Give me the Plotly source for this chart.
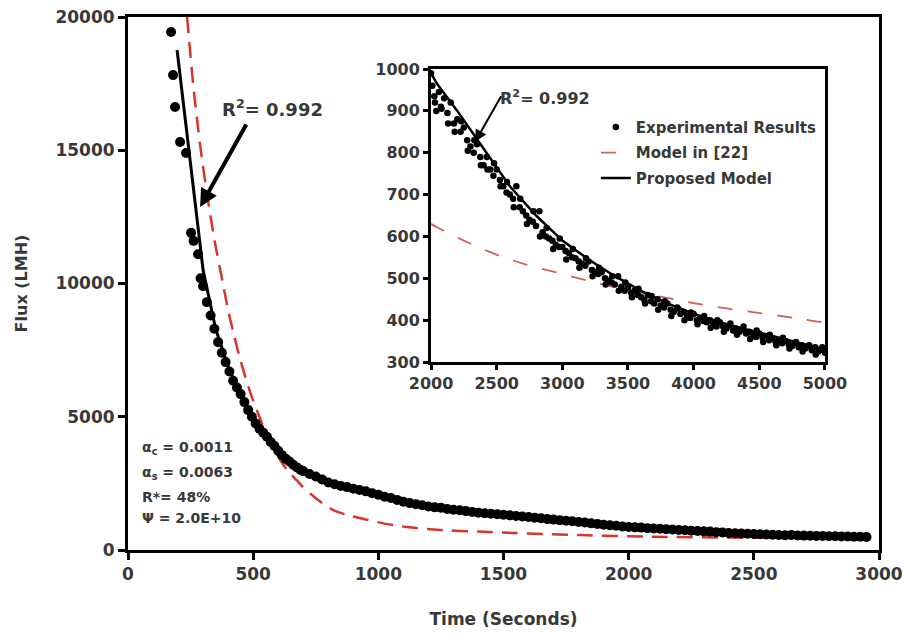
import plotly.graph_objects as go

# ---------------- main chart data ----------------
main_exp_t = [172, 180, 188, 208, 232, 252, 262, 280, 290,
              300, 315, 330, 345, 360, 375, 390, 405, 420, 435, 450, 465, 480, 495, 510, 525,
              540, 555, 570, 585, 600, 615, 630, 645, 660, 675, 690,
              700, 725, 750, 775, 800, 825, 850, 875, 900, 925, 950, 975, 1000, 1025, 1050,
              1075, 1100, 1125, 1150, 1175, 1200, 1225, 1250, 1275, 1300, 1325, 1350, 1375,
              1400, 1425, 1450, 1475, 1500, 1525, 1550, 1575, 1600, 1625, 1650, 1675, 1700,
              1725, 1750, 1775, 1800, 1825, 1850, 1875, 1900, 1925, 1950, 1975, 2000, 2025,
              2050, 2075, 2100, 2125, 2150, 2175, 2200, 2225, 2250, 2275, 2300, 2325, 2350,
              2375, 2400, 2425, 2450, 2475, 2500, 2525, 2550, 2575, 2600, 2625, 2650, 2675,
              2700, 2725, 2750, 2775, 2800, 2825, 2850, 2875, 2900, 2925, 2950]
main_exp_flux = [19440, 17820, 16620, 15310, 14900, 11900, 11600, 11100, 10200,
                 9900, 9300, 8800, 8300, 7800, 7400, 7050, 6700, 6350, 6100, 5850, 5550, 5250,
                 5000, 4750, 4550, 4400, 4250, 4050, 3900, 3720, 3560, 3420, 3320, 3200, 3100,
                 3000,
                 2960, 2850, 2760, 2650, 2530, 2470, 2400, 2360, 2300, 2250, 2200, 2130, 2070,
                 2000, 1950, 1880, 1810, 1760, 1720, 1680, 1630, 1600, 1590, 1540, 1510, 1490,
                 1460, 1430, 1400, 1380, 1360, 1340, 1320, 1300, 1280, 1260, 1240, 1210, 1190,
                 1160, 1140, 1120, 1100, 1080, 1050, 1030, 1000, 980, 950, 930, 910, 880, 860,
                 850, 840, 820, 810, 800, 780, 770, 750, 740, 720, 710, 700, 690, 670, 660, 640,
                 630, 620, 610, 600, 590, 580, 570, 560, 555, 560, 545, 540, 535, 530, 525, 520,
                 515, 510, 505, 500, 495, 490]

main_prop_t = [196, 300, 350, 400, 450, 500, 600, 700, 800, 1000, 1200, 1500, 2000, 2500, 2950]
main_prop_flux = [18760, 10500, 8300, 6900, 5800, 4900, 3700, 2950, 2500, 2050, 1650, 1300, 880, 650, 500]

main_ref_t = [236, 260, 288, 318, 348, 375, 400, 425, 450, 475, 500, 525, 550, 580, 610, 640,
              676, 700, 730, 770, 820, 880, 956, 1030, 1116, 1248, 1400, 1540, 1808, 2076,
              2500, 2950]
main_ref_flux = [20000, 17500, 15200, 13200, 11500, 10200, 9000, 8000, 7100, 6300, 5600, 5000,
                 4400, 3850, 3350, 2950, 2600, 2350, 2100, 1800, 1500, 1300, 1130, 980, 860, 750,
                 690, 640, 560, 500, 460, 430]

# ---------------- inset data ----------------
ins_exp_t1 = [2000, 2010, 2025, 2040, 2060, 2075, 2100, 2125, 2150, 2175, 2200, 2225, 2250, 2275,
              2300, 2325, 2350, 2375, 2400, 2425, 2450, 2475, 2500, 2525, 2550, 2575, 2600, 2625,
              2650, 2675, 2700, 2725, 2750, 2775, 2800, 2825, 2850, 2875, 2900, 2925, 2950, 2975,
              3000, 3025, 3050, 3075, 3100, 3125, 3150, 3175, 3200, 3225, 3250, 3275, 3300, 3325,
              3350, 3375, 3400, 3425, 3450, 3475, 3500, 3525, 3550, 3575, 3600, 3625, 3650, 3675,
              3700, 3725, 3750, 3775, 3800, 3825, 3850, 3875, 3900, 3925, 3950, 3975, 4000, 4025,
              4050, 4075, 4100, 4125, 4150, 4175, 4200, 4225, 4250, 4275, 4300, 4325, 4350, 4375,
              4400, 4425, 4450, 4475, 4500, 4525, 4550, 4575, 4600, 4625, 4650, 4675, 4700, 4725,
              4750, 4775, 4800, 4825, 4850, 4875, 4900, 4925, 4950, 4975, 5000]
ins_exp_f1 = [990, 960, 935, 900, 945, 910, 930, 895, 920, 870, 880, 850, 860, 830, 815, 800, 820,
              790, 770, 790, 760, 745, 760, 735, 720, 705, 700, 690, 720, 670, 660, 650, 640, 635,
              625, 660, 610, 600, 595, 590, 580, 575, 575, 565, 560, 550, 548, 540, 535, 530, 540,
              520, 515, 510, 515, 500, 495, 490, 485, 505, 480, 470, 478, 465, 470, 460, 455, 448,
              460, 445, 440, 450, 435, 430, 440, 425, 420, 430, 415, 420, 410, 405, 415, 400, 405,
              398, 395, 400, 392, 385, 395, 385, 380, 388, 375, 380, 372, 378, 368, 372, 365, 360,
              368, 358, 362, 352, 356, 348, 352, 345, 350, 342, 338, 345, 335, 340, 332, 338, 328,
              335, 325, 330, 322]
ins_exp_t2 = [2030, 2080, 2130, 2180, 2230, 2280, 2330, 2380, 2430, 2480, 2530, 2580, 2630, 2680,
              2730, 2780, 2830, 2880, 2930, 2980, 3030, 3080, 3130, 3180, 3230, 3280, 3330, 3380,
              3430, 3480, 3530, 3580, 3630, 3680, 3730, 3780, 3830, 3880, 3930, 3980, 4030, 4080,
              4130, 4180, 4230, 4280, 4330, 4380, 4430, 4480, 4530, 4580, 4630, 4680, 4730, 4780,
              4830, 4880, 4930, 4980]
ins_exp_f2 = [920, 905, 870, 850, 875, 805, 830, 770, 760, 775, 720, 730, 670, 690, 630, 660, 600,
              620, 570, 595, 545, 570, 525, 548, 505, 525, 485, 505, 470, 490, 455, 475, 440, 458,
              425, 445, 410, 428, 400, 418, 390, 410, 382, 400, 372, 392, 365, 385, 355, 375, 348,
              365, 340, 358, 332, 348, 325, 340, 318, 335]

ins_prop_t = [2000, 2045, 2200, 2400, 2600, 2800, 3000, 3200, 3400, 3600, 3800, 4000, 4200, 4400,
              4600, 4800, 5000]
ins_prop_flux = [990, 965, 900, 810, 720, 650, 590, 545, 505, 470, 440, 415, 395, 378, 362, 346, 330]

ins_ref_t = [2000, 2045, 2250, 2470, 2700, 2980, 3250, 3490, 3750, 3995, 4250, 4505, 4750, 4960,
             5000]
ins_ref_flux = [630, 622, 590, 560, 535, 512, 490, 472, 456, 441, 428, 417, 406, 396, 393]

# tick values
main_xticks = [0, 500, 1000, 1500, 2000, 2500, 3000]
main_yticks = [0, 5000, 10000, 15000, 20000]
ins_xticks = [2000, 2500, 3000, 3500, 4000, 4500, 5000]
ins_yticks = [300, 400, 500, 600, 700, 800, 900, 1000]

FONT = "DejaVu Sans"
TXT = "#383838"
RED = "#d8342c"

fig = go.Figure()

# main traces
fig.add_trace(go.Scatter(x=main_ref_t, y=main_ref_flux, mode="lines",
                         line=dict(color=RED, width=2.5, dash="16px,9px", shape="spline",
                                   smoothing=0.6),
                         showlegend=False, xaxis="x", yaxis="y"))
fig.add_trace(go.Scatter(x=main_exp_t, y=main_exp_flux, mode="markers",
                         marker=dict(color="black", size=10), showlegend=False,
                         xaxis="x", yaxis="y"))
fig.add_trace(go.Scatter(x=main_prop_t, y=main_prop_flux, mode="lines",
                         line=dict(color="black", width=3), showlegend=False,
                         xaxis="x", yaxis="y"))

# inset traces
fig.add_trace(go.Scatter(x=ins_ref_t, y=ins_ref_flux, mode="lines", name="Model in [22]",
                         line=dict(color="#d46060", width=1.8, dash="longdash", shape="spline"),
                         legendgroup="b", legendrank=2, xaxis="x2", yaxis="y2"))
fig.add_trace(go.Scatter(x=ins_exp_t1 + ins_exp_t2, y=ins_exp_f1 + ins_exp_f2, mode="markers",
                         name="Experimental Results", marker=dict(color="black", size=6.5),
                         legendgroup="a", legendrank=1, xaxis="x2", yaxis="y2"))
fig.add_trace(go.Scatter(x=ins_prop_t, y=ins_prop_flux, mode="lines", name="Proposed Model",
                         line=dict(color="black", width=2.5), legendgroup="c", legendrank=3,
                         xaxis="x2", yaxis="y2"))

axis_common = dict(showline=True, linewidth=3, linecolor="black", mirror=True,
                   ticks="outside", tickwidth=3, tickcolor="black", showgrid=False,
                   zeroline=False, automargin=False, tickformat="d")

fig.update_layout(
    width=904, height=634,
    margin=dict(l=128, r=25, t=17, b=84),
    paper_bgcolor="white", plot_bgcolor="white",
    font=dict(family=FONT, color=TXT),
    xaxis=dict(range=[0, 3000], tickvals=main_xticks, ticklen=7,
               tickfont=dict(size=17, weight="bold", color=TXT),
               title=dict(text="Time (Seconds)", standoff=30,
                          font=dict(size=17, weight="bold", color=TXT)),
               **axis_common),
    yaxis=dict(range=[0, 20000], tickvals=main_yticks, ticklen=7,
               tickfont=dict(size=17, weight="bold", color=TXT),
               title=dict(text="Flux (LMH)", standoff=24,
                          font=dict(size=16, weight="bold", color=TXT)),
               **axis_common),
    xaxis2=dict(domain=[0.4035, 0.928], anchor="y2", range=[2000, 5000], tickvals=ins_xticks,
                ticklen=5, tickfont=dict(size=16, weight="bold", color=TXT), **axis_common),
    yaxis2=dict(domain=[0.3527, 0.9024], anchor="x2", range=[300, 1000], tickvals=ins_yticks,
                ticklen=5, tickfont=dict(size=16, weight="bold", color=TXT), **axis_common),
    legend=dict(x=0.623, y=0.824, xanchor="left", yanchor="top", bgcolor="rgba(0,0,0,0)",
                font=dict(size=15, weight="bold", color=TXT), traceorder="grouped",
                tracegroupgap=3),
)

fig.add_annotation(x=576, y=16590, xref="x", yref="y", text="R<sup>2</sup>= 0.992",
                   showarrow=False, font=dict(family=FONT, size=18, weight="bold", color=TXT))
fig.add_annotation(x=288, y=12870, xref="x", yref="y", ax=47, ay=-84, text="",
                   showarrow=True, arrowhead=2, arrowsize=0.9, arrowwidth=4, arrowcolor="black")

fig.add_annotation(x=2868, y=933, xref="x2", yref="y2", text="R<sup>2</sup>= 0.992",
                   showarrow=False, font=dict(family=FONT, size=16, weight="bold", color=TXT))
fig.add_annotation(x=2335, y=826, xref="x2", yref="y2", ax=27, ay=-47, text="",
                   showarrow=True, arrowhead=2, arrowsize=1.2, arrowwidth=2, arrowcolor="black")

params = ["α<sub>c</sub> = 0.0011", "α<sub>s</sub> = 0.0063", "R*= 48%", "Ψ = 2.0E+10"]
param_y = [3830, 2890, 1990, 1200]
for txt, yy in zip(params, param_y):
    fig.add_annotation(x=48, y=yy, xref="x", yref="y", text=txt, showarrow=False,
                       xanchor="left", font=dict(family=FONT, size=14, weight="bold", color=TXT))

fig.write_html("out.html", config={"displayModeBar": False},
               post_script="document.body.style.margin='0';document.body.style.overflow='hidden';")
